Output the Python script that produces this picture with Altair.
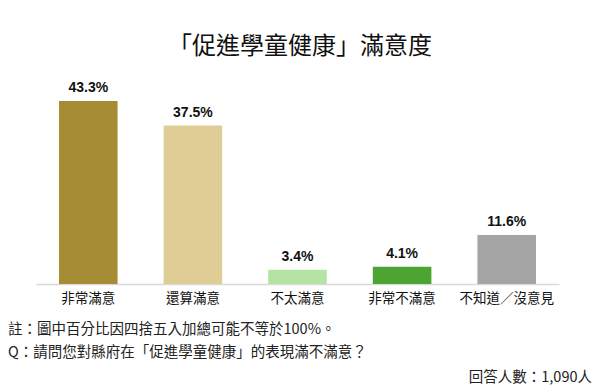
import altair as alt
import pandas as pd

categories = ["非常滿意", "還算滿意", "不太滿意", "非常不滿意", "不知道／沒意見"]
values = [43.3, 37.5, 3.4, 4.1, 11.6]
colors = ["#A68D35", "#DFCD95", "#B4E3A2", "#4CA532", "#A5A5A5"]
labels = ["43.3%", "37.5%", "3.4%", "4.1%", "11.6%"]

title_text = "「促進學童健康」滿意度"
note_text = "註：圖中百分比因四捨五入加總可能不等於100%。"
q_text = "Q：請問您對縣府在「促進學童健康」的表現滿不滿意？"
n_text = "回答人數：1,090人"

df = pd.DataFrame({"cat": categories, "val": values, "label": labels})

CJK = "Noto Sans CJK TC"

x_enc = alt.X("cat:N", sort=categories, title=None,
              scale=alt.Scale(paddingInner=0.44, paddingOuter=0.22),
              axis=alt.Axis(labelAngle=0, labelFont=CJK, labelFontSize=13.5,
                            labelColor="#111111", ticks=False, domainColor="#D9D9D9",
                            domainWidth=1.5, labelPadding=7, grid=False))
y_enc = alt.Y("val:Q", scale=alt.Scale(domain=[0, 53], nice=False), axis=None)

bars = alt.Chart(df).mark_bar().encode(
    x=x_enc, y=y_enc,
    color=alt.Color("cat:N", sort=categories,
                    scale=alt.Scale(domain=categories, range=colors), legend=None),
)

texts = alt.Chart(df).mark_text(font="Liberation Sans", fontWeight="bold", fontSize=14,
                                baseline="bottom", dy=-6, color="#111111").encode(
    x=alt.X("cat:N", sort=categories), y="val:Q", text="label:N")

def ann(text, x, y, size, align="left", color="#222222"):
    return alt.Chart(pd.DataFrame({"t": [text]})).mark_text(
        font=CJK, fontSize=size, align=align, baseline="middle", color=color
    ).encode(x=alt.value(x), y=alt.value(y), text="t:N")

title = ann(title_text, 264, -13, 24, align="center", color="#111111")
note = ann(note_text, -28, 270, 14.5)
q = ann(q_text, -28, 293, 14.5)
n = ann(n_text, 556, 318, 14.5, align="right")

chart = alt.layer(bars, texts, title, note, q, n).properties(
    width=523, height=224,
    background="white",
    autosize=alt.AutoSizeParams(type="none"),
    padding={"left": 36, "top": 60, "right": 41, "bottom": 108},
).configure_view(strokeWidth=0, stroke="transparent")

chart.save("out.html", embed_options={"renderer": "svg", "actions": False})
